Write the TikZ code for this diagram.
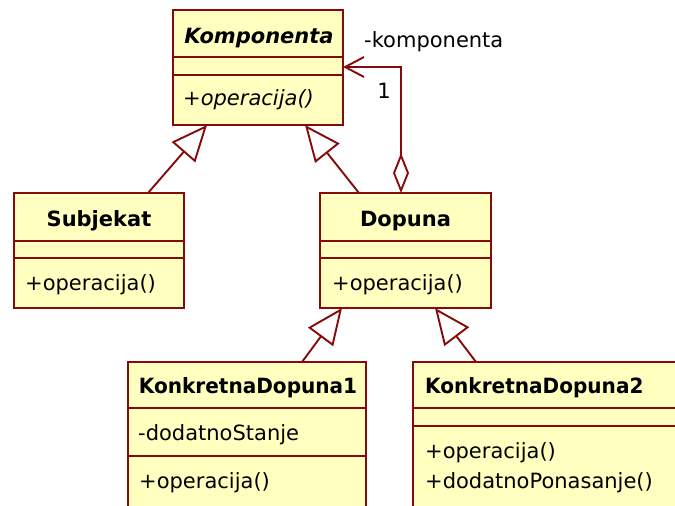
\documentclass[tikz,border=0pt]{standalone}
\usepackage{fontspec}
\usepackage{graphicx}
\setmainfont{DejaVu Sans}
\usetikzlibrary{arrows.meta,calc}
\definecolor{umlred}{RGB}{135,10,10}
\definecolor{umlfill}{RGB}{255,255,192}
\begin{document}
\fontsize{21}{25}\selectfont
\begin{tikzpicture}[x=1pt,y=-1pt,
  cls/.style={draw=umlred, fill=umlfill, line width=2pt, anchor=north west, inner sep=0pt, outer sep=0pt},
  sep/.style={draw=umlred, line width=2pt},
  gen/.style={draw=umlred, line width=1.9pt, -{Triangle[open,length=36pt,width=31pt]}},
  assoc/.style={draw=umlred, line width=1.9pt, {Diamond[open,length=40pt,width=16pt]}-{Straight Barb[length=19pt,width=20pt]}},
  txt/.style={anchor=base, inner sep=0pt},
  ltxt/.style={anchor=base west, inner sep=0pt},
  bname/.style={txt, font=\bfseries}]
\useasboundingbox (0,0) rectangle (675,506);
\clip (0,0) rectangle (675,506);
% class boxes
\node[cls, minimum width=170pt, minimum height=115pt] (komp) at (173,10) {};
\node[cls, minimum width=170pt, minimum height=115pt] (sub) at (14,193) {};
\node[cls, minimum width=171pt, minimum height=115pt] (dop) at (320,193) {};
\node[cls, minimum width=238pt, minimum height=170pt] (kd1) at (128,362) {};
\node[cls, minimum width=300pt, minimum height=170pt] (kd2) at (413,362) {};
% compartments
\draw[sep] ($(komp.north west)+(0,47)$) -- ($(komp.north east)+(0,47)$);
\draw[sep] ($(komp.north west)+(0,65)$) -- ($(komp.north east)+(0,65)$);
\draw[sep] ($(sub.north west)+(0,48)$) -- ($(sub.north east)+(0,48)$);
\draw[sep] ($(sub.north west)+(0,65)$) -- ($(sub.north east)+(0,65)$);
\draw[sep] ($(dop.north west)+(0,48)$) -- ($(dop.north east)+(0,48)$);
\draw[sep] ($(dop.north west)+(0,65)$) -- ($(dop.north east)+(0,65)$);
\draw[sep] ($(kd1.north west)+(0,46)$) -- ($(kd1.north east)+(0,46)$);
\draw[sep] ($(kd1.north west)+(0,94)$) -- ($(kd1.north east)+(0,94)$);
\draw[sep] ($(kd2.north west)+(0,46)$) -- ($(kd2.north east)+(0,46)$);
\draw[sep] ($(kd2.north west)+(0,64)$) -- ($(kd2.north east)+(0,64)$);
% texts
\node[txt, font=\bfseries\itshape] (kompn) at (259,43) {Komponenta};
\node[ltxt, font=\itshape] (kompop) at (183,105) {+operacija()};
\node[bname] (subn) at (99,226) {Subjekat};
\node[ltxt] (subop) at (25,290) {+operacija()};
\node[bname] (dopn) at (405.5,226) {Dopuna};
\node[ltxt] (dopop) at (332,290) {+operacija()};
\node[bname] (kd1n) at (248,393) {\scalebox{0.955}[1]{KonkretnaDopuna1}};
\node[ltxt] (kd1a) at (138,440) {-dodatnoStanje};
\node[ltxt] (kd1op) at (139,488) {+operacija()};
\node[ltxt, font=\bfseries] (kd2n) at (425,393) {\scalebox{0.955}[1]{KonkretnaDopuna2}};
\node[ltxt] (kd2o1) at (425,458) {+operacija()};
\node[ltxt] (kd2o2) at (425,488) {+dodatnoPonasanje()};
\node[ltxt] (rolel) at (364,47) {-komponenta};
\node[txt] (mult) at (384,98) {1};
% generalizations
\draw[gen] ($(sub.north west)+(134,0)$) -- ($(komp.south west)+(34,0)$);
\draw[gen] ($(dop.north west)+(39,0)$) -- ($(komp.south west)+(132,0)$);
\draw[gen] ($(kd1.north west)+(174,0)$) -- ($(dop.south west)+(22,0)$);
\draw[gen] ($(kd2.north west)+(63,0)$) -- ($(dop.south west)+(115,0)$);
% aggregation
\draw[assoc] ($(dop.north west)+(81,0)$) |- ($(komp.north east)+(0,57)$);
\end{tikzpicture}
\end{document}
